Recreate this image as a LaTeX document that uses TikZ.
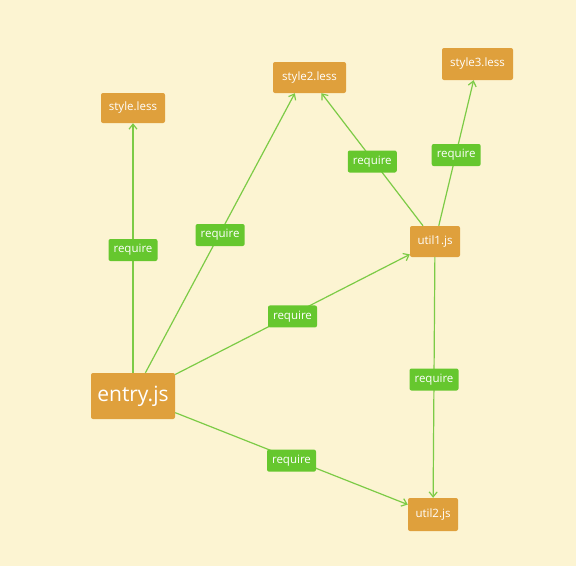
\documentclass[tikz,border=0pt]{standalone}
\usepackage{fontspec}
\setmainfont{Open Sans}
\usetikzlibrary{arrows.meta}
\definecolor{bg}{HTML}{FCF4D2}
\definecolor{boxc}{HTML}{DFA03C}
\definecolor{lab}{HTML}{66C72E}
\definecolor{edgec}{HTML}{7CCB46}
\tikzset{
  file/.style={fill=boxc, rounded corners=2pt, text=white, inner sep=0pt, font=\fontsize{11.5}{13}\selectfont},
  bigfile/.style={file, font=\fontsize{21}{24}\selectfont},
  req/.style={fill=lab, rounded corners=2pt, text=white, inner sep=0pt, minimum width=49pt, minimum height=22pt, yshift=-2pt, font=\fontsize{11.5}{13}\selectfont},
  dep/.style={draw=edgec, line width=1.2pt, -{Straight Barb[length=5pt,width=8pt,line width=1.2pt]}}
}
\begin{document}
\begin{tikzpicture}[x=1pt,y=-1pt]
\fill[bg] (0,0) rectangle (576,566);
\useasboundingbox (0,0) rectangle (576,566);
\node[bigfile, minimum width=84pt, minimum height=46pt] (entry) at (133,396) {entry.js};
\node[file, minimum width=64pt, minimum height=30pt] (style) at (133,108) {style.less};
\node[file, minimum width=73pt, minimum height=31pt] (style2) at (309.5,77.5) {style2.less};
\node[file, minimum width=71pt, minimum height=32pt] (style3) at (477.5,64) {style3.less};
\node[file, minimum width=50pt, minimum height=31pt] (util1) at (435,241.5) {util1.js};
\node[file, minimum width=50pt, minimum height=33pt] (util2) at (433,514.5) {util2.js};
\draw[dep] (entry) -- node[req] {require} (style);
\draw[dep] (entry) -- node[req] {require} (style2.227);
\draw[dep] (entry) -- node[req] {require} (util1);
\draw[dep] (entry) -- node[req] {require} (util2);
\draw[dep] (util1) -- node[req] {require} (style2);
\draw[dep] (util1) -- node[req] {require} (style3);
\draw[dep] (util1) -- node[req] {require} (util2);
\end{tikzpicture}
\end{document}
